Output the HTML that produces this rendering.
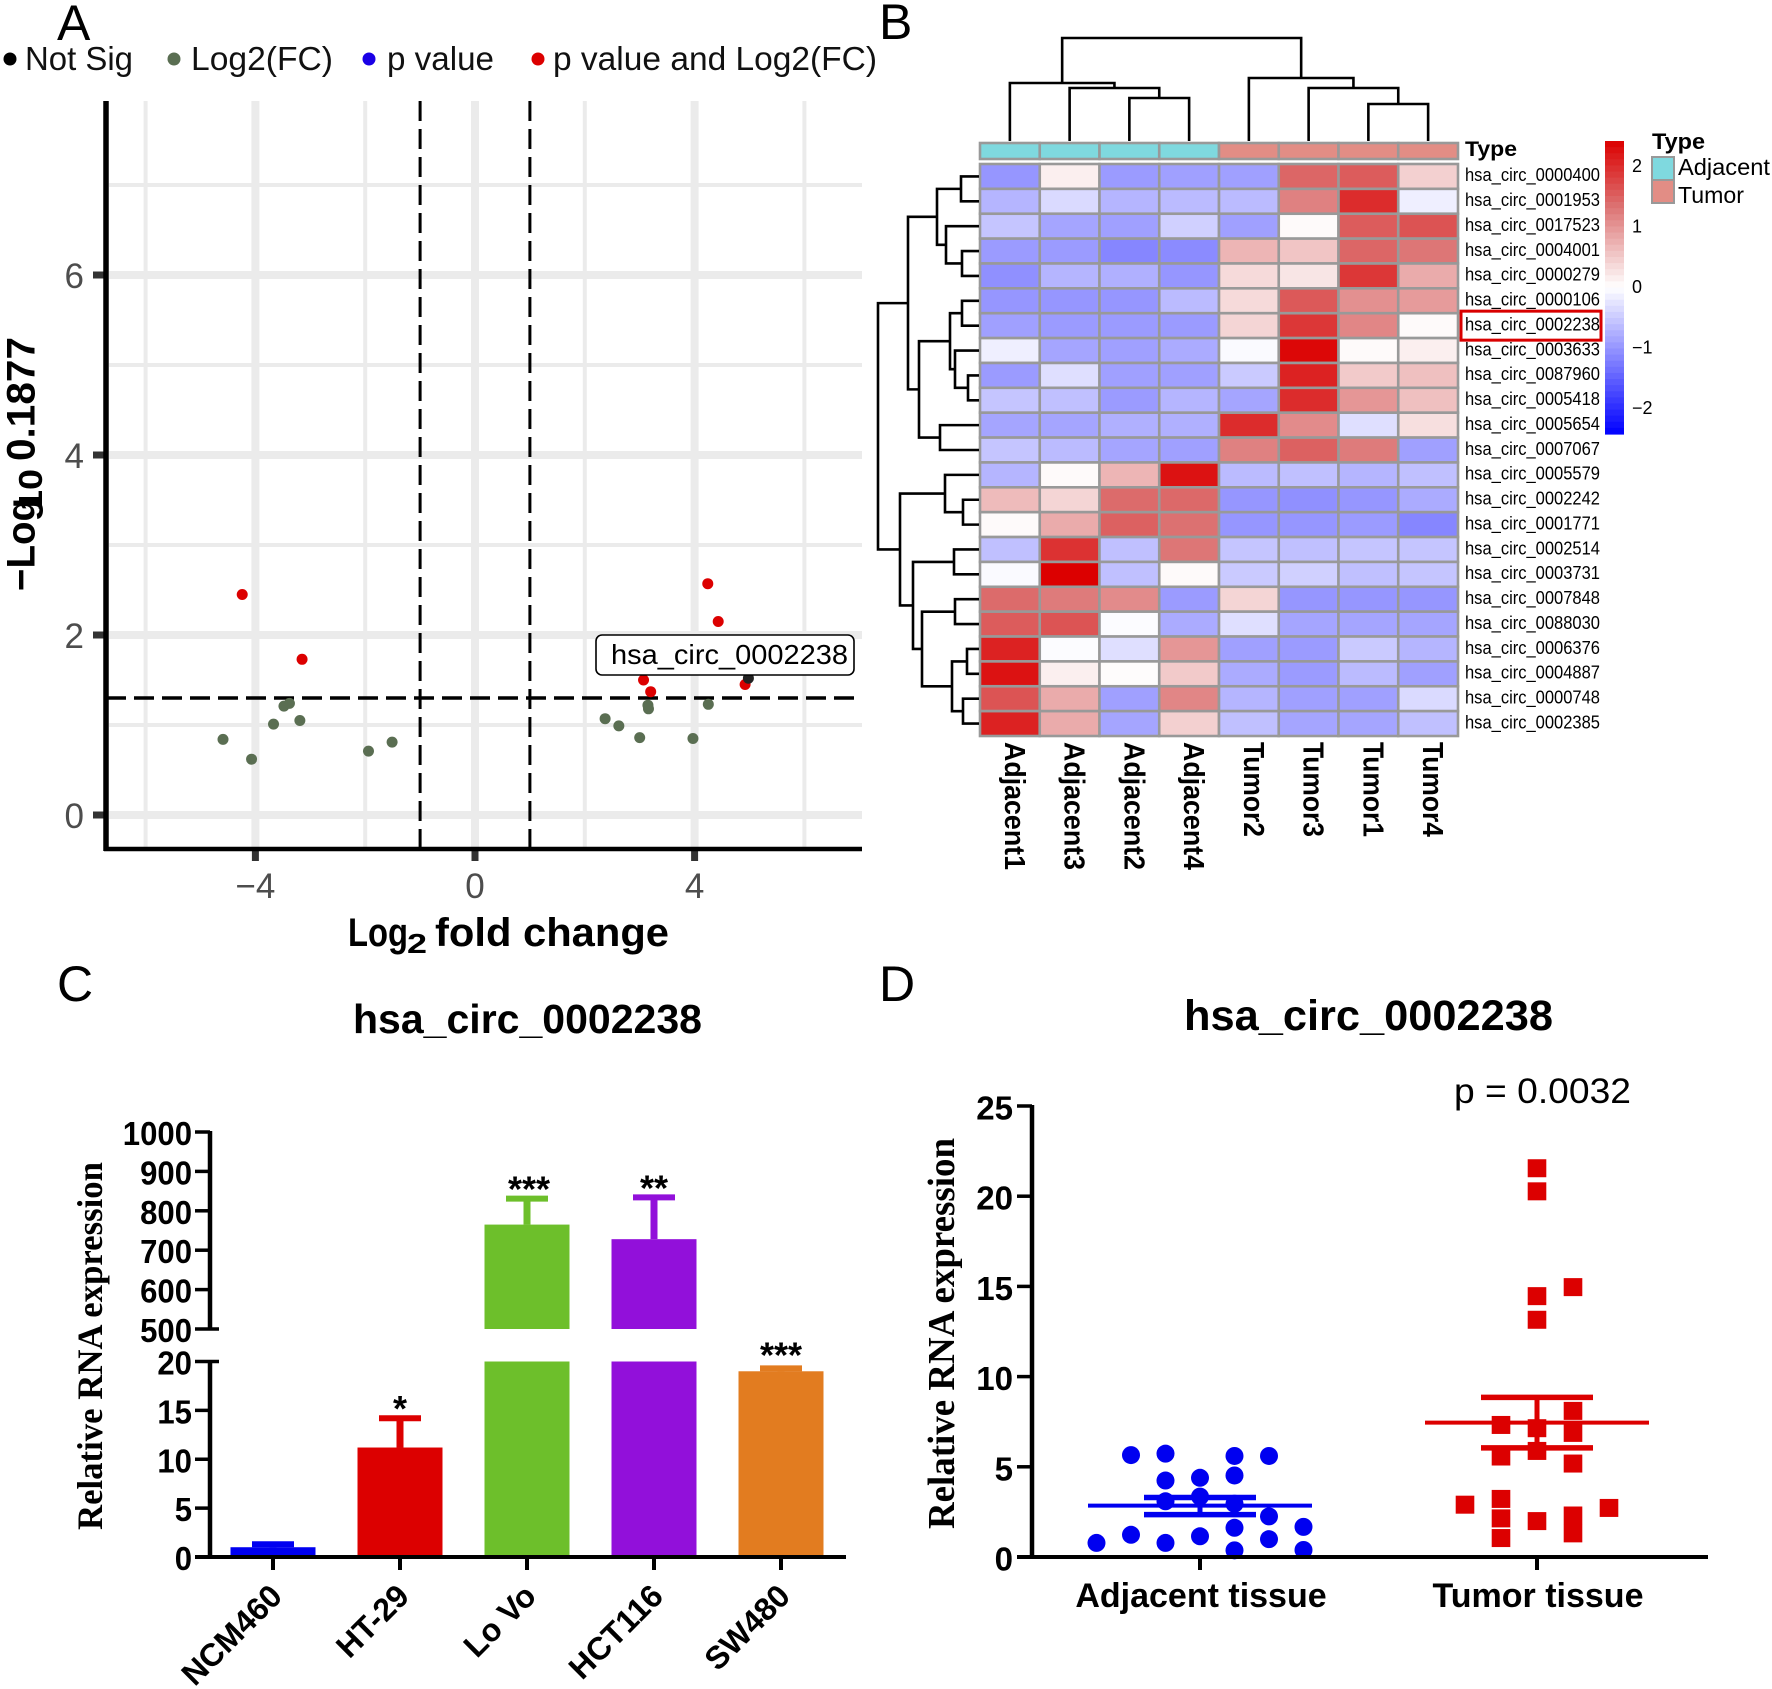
<!DOCTYPE html>
<html>
<head>
<meta charset="utf-8">
<title>circRNA figure</title>
<style>
html,body{margin:0;padding:0;background:#fff;}
svg{display:block;}
text{font-family:"Liberation Sans",sans-serif;}
.b{font-weight:bold;}
.serif{font-family:"Liberation Serif",serif;font-weight:bold;}
</style>
</head>
<body>
<svg id="fig" xmlns="http://www.w3.org/2000/svg" width="1772" height="1689" viewBox="0 0 1772 1689">
<rect x="0" y="0" width="1772" height="1689" fill="#fff"/>
<g id="panelA"></g>
<g id="panelB"></g>
<g id="panelC"></g>
<g id="panelD"></g>

<g font-size="50" fill="#000">
<text x="57" y="40">A</text>
<text x="879" y="39">B</text>
<text x="57" y="1001">C</text>
<text x="879" y="1001">D</text>
</g>

<g font-size="33" fill="#111">
<circle cx="10" cy="59" r="6.5" fill="#000"/>
<text x="25" y="70" textLength="108" lengthAdjust="spacingAndGlyphs">Not Sig</text>
<circle cx="174" cy="59" r="6.5" fill="#5a6e52"/>
<text x="191" y="70" textLength="142" lengthAdjust="spacingAndGlyphs">Log2(FC)</text>
<circle cx="369" cy="59" r="6.5" fill="#1a00e6"/>
<text x="387" y="70" textLength="107" lengthAdjust="spacingAndGlyphs">p value</text>
<circle cx="538" cy="59" r="6.5" fill="#dc0000"/>
<text x="553" y="70" textLength="324" lengthAdjust="spacingAndGlyphs">p value and Log2(FC)</text>
</g>

<g class="b" fill="#000">
<text class="b" x="348" y="946" font-size="40" textLength="60" lengthAdjust="spacingAndGlyphs">Log</text>
<text class="b" x="407" y="953" font-size="28" textLength="20" lengthAdjust="spacingAndGlyphs">2</text>
<text class="b" x="435" y="946" font-size="40" textLength="234" lengthAdjust="spacingAndGlyphs">fold change</text>
</g>
<g fill="#000">
<text class="b" transform="translate(34.5,591) rotate(-90)" font-size="40" textLength="93" lengthAdjust="spacingAndGlyphs">−Log</text>
<text class="b" transform="translate(42,511) rotate(-90)" font-size="33" textLength="42" lengthAdjust="spacingAndGlyphs">10</text>
<text class="b" transform="translate(34.5,461) rotate(-90)" font-size="40" textLength="124" lengthAdjust="spacingAndGlyphs">0.1877</text>
</g>

<g fill="#000">
<text class="b" x="1465" y="156" font-size="21" textLength="52" lengthAdjust="spacingAndGlyphs">Type</text>
<text class="b" x="1652" y="149" font-size="22" textLength="53" lengthAdjust="spacingAndGlyphs">Type</text>
<rect x="1652" y="157" width="22" height="23" fill="#7fd9df" stroke="#999" stroke-width="2"/>
<rect x="1652" y="180" width="22" height="23" fill="#e28d85" stroke="#999" stroke-width="2"/>
<text x="1678" y="175" font-size="23" textLength="92" lengthAdjust="spacingAndGlyphs">Adjacent</text>
<text x="1678" y="203" font-size="23" textLength="66" lengthAdjust="spacingAndGlyphs">Tumor</text>
</g>

<text class="b" x="353" y="1033" font-size="41" textLength="349" lengthAdjust="spacingAndGlyphs">hsa_circ_0002238</text>
<text class="serif" transform="translate(102,1530) rotate(-90)" font-size="36" textLength="368" lengthAdjust="spacingAndGlyphs">Relative RNA expression</text>

<text class="b" x="1184" y="1030" font-size="43" textLength="369" lengthAdjust="spacingAndGlyphs">hsa_circ_0002238</text>
<text x="1454" y="1103" font-size="35" textLength="177" lengthAdjust="spacingAndGlyphs">p = 0.0032</text>
<text class="serif" transform="translate(954,1529) rotate(-90)" font-size="38" textLength="391" lengthAdjust="spacingAndGlyphs">Relative RNA expression</text>
</svg>

<script>
/* ---------- Panel A data ---------- */
var volcanoMajorX = [-4, 0, 4];
var volcanoMinorX = [-6, -2, 2, 6];
var volcanoMajorY = [0, 2, 4, 6];
var volcanoMinorY = [1, 3, 5, 7];
var volcanoFcCut = [-1, 1];
var volcanoPCut = 1.3;
var greenX = [-4.59, -4.07, -3.67, -3.48, -3.38, -3.19, -1.94, -1.51, 2.37, 2.62, 3.0, 3.15, 3.16, 3.97, 4.25];
var greenY = [0.84, 0.62, 1.01, 1.21, 1.24, 1.05, 0.71, 0.81, 1.07, 0.99, 0.86, 1.22, 1.18, 0.85, 1.23];
var redX = [-4.24, -3.15, 4.24, 4.43, 3.07, 3.20, 4.92];
var redY = [2.45, 1.73, 2.57, 2.15, 1.50, 1.37, 1.45];
var blackX = [4.98];
var blackY = [1.52];

/* ---------- Panel B data ---------- */
var heatColumns = ["Adjacent1","Adjacent3","Adjacent2","Adjacent4","Tumor2","Tumor3","Tumor1","Tumor4"];
var heatColumnTypes = ["A","A","A","A","T","T","T","T"];
var heatRows = ["hsa_circ_0000400","hsa_circ_0001953","hsa_circ_0017523","hsa_circ_0004001","hsa_circ_0000279","hsa_circ_0000106","hsa_circ_0002238","hsa_circ_0003633","hsa_circ_0087960","hsa_circ_0005418","hsa_circ_0005654","hsa_circ_0007067","hsa_circ_0005579","hsa_circ_0002242","hsa_circ_0001771","hsa_circ_0002514","hsa_circ_0003731","hsa_circ_0007848","hsa_circ_0088030","hsa_circ_0006376","hsa_circ_0004887","hsa_circ_0000748","hsa_circ_0002385"];
var heatValues = [
[-1.0,0.15,-0.95,-0.9,-0.9,1.45,1.55,0.45],
[-0.7,-0.35,-0.7,-0.65,-0.65,1.2,2.0,-0.15],
[-0.55,-0.85,-0.9,-0.45,-0.9,0.05,1.55,1.63],
[-0.95,-0.95,-1.15,-1.1,0.7,0.55,1.45,1.3],
[-1.05,-0.7,-0.75,-1.0,0.35,0.25,1.9,0.8],
[-1.0,-1.0,-1.0,-0.65,0.35,1.58,1.05,0.95],
[-0.9,-0.95,-0.95,-0.95,0.4,1.9,1.15,0.05],
[-0.15,-0.85,-0.9,-0.8,-0.05,2.35,0.05,0.15],
[-0.95,-0.3,-0.9,-0.9,-0.5,2.1,0.5,0.6],
[-0.55,-0.6,-0.95,-0.7,-0.85,2.0,1.0,0.6],
[-0.85,-0.85,-0.75,-0.75,2.0,1.1,-0.3,0.3],
[-0.55,-0.65,-0.85,-0.9,1.2,1.5,1.25,-0.9],
[-0.7,0.05,0.7,2.25,-0.65,-0.6,-0.7,-0.6],
[0.65,0.4,1.4,1.42,-1.0,-1.05,-1.0,-0.8],
[0.05,0.8,1.5,1.35,-1.0,-1.0,-0.95,-1.15],
[-0.6,1.95,-0.6,1.3,-0.55,-0.6,-0.55,-0.55],
[-0.05,2.42,-0.6,0.05,-0.5,-0.45,-0.6,-0.55],
[1.4,1.25,1.1,-0.95,0.4,-1.0,-1.0,-1.0],
[1.55,1.62,-0.03,-0.8,-0.3,-0.85,-0.85,-0.85],
[2.1,-0.03,-0.3,1.0,-0.9,-0.95,-0.5,-0.7],
[2.25,0.15,0.03,0.5,-0.8,-0.95,-0.65,-0.9],
[1.62,0.8,-0.9,1.15,-0.7,-0.9,-0.9,-0.35],
[2.1,0.8,-0.85,0.45,-0.6,-0.85,-0.85,-0.6]
];
var colorbarTicks = [2, 1, 0, -1, -2];
var highlightedRow = "hsa_circ_0002238";
/* dendrograms: nested [left, right, merge distance]; leaves are indices */
var colTree = [[[0,[1,[2,3,43],53],58],[4,[5,[6,7,37],53],63],103]];
var rowTree = [[[[[0,1,18],[2,[3,4,17],33],42],[[[5,6,17],[7,[8,9,11],24],29],[10,11,39],60],71],[[12,[13,14,16],34],[[15,16,25],[[17,18,24],[[19,20,12],[21,22,16],27],57],66],79],101]];

/* ---------- Panel C data ---------- */
var barCategories = ["NCM460","HT-29","Lo Vo","HCT116","SW480"];
var barMeans = [1.0, 11.2, 765, 728, 19.0];
var barErrorTops = [1.3, 14.2, 831, 834, 19.3];
var barColors = ["#0000f0","#dc0000","#6dbf2b","#9210da","#e27c20"];
var barStars = ["","*","***","**","***"];
var barLowerTicks = [0, 5, 10, 15, 20];
var barUpperTicks = [500, 600, 700, 800, 900, 1000];

/* ---------- Panel D data ---------- */
var scatterTicks = [0, 5, 10, 15, 20, 25];
var scatterCategories = ["Adjacent tissue","Tumor tissue"];
var adjacentSlots = [-2,-1,1,2,-1,0,1,-1,0,1,2,3,1,2,0,-1,-2,-3,3,1];
var adjacentValues = [5.65,5.73,5.6,5.6,4.24,4.39,4.52,3.09,3.35,2.95,2.25,1.67,1.62,0.99,1.15,0.78,1.23,0.78,0.39,0.37];
var tumorSlots = [0,0,1,0,0,1,-1,0,1,0,-1,1,-2,-1,-1,0,1,1,2,-1];
var tumorValues = [21.55,20.27,14.96,14.46,13.15,8.1,7.32,7.14,6.88,5.88,5.57,5.18,2.9,3.22,2.14,1.99,2.3,1.31,2.72,1.05];
var adjacentSummary = [2.35, 2.85, 3.3];
var tumorSummary = [6.05, 7.45, 8.85];

var NS = "http://www.w3.org/2000/svg";
function mk(tag, attrs, parent, txt) {
  var e = document.createElementNS(NS, tag);
  for (var k in attrs) { e.setAttribute(k, attrs[k]); }
  if (txt !== undefined) { e.textContent = txt; }
  parent.appendChild(e);
  return e;
}
var el, i, j;

/* ---------- Panel A ---------- */
var pA = document.getElementById("panelA");
function ax(v) { return 475 + v * 54.9; }
function ay(v) { return 815 - v * 90; }
volcanoMinorX.forEach(function (v) {
  var el = mk("line", {x1: ax(v), x2: ax(v), y1: 101, y2: 849, stroke: "#ebebeb", "stroke-width": 4}, pA);
  
  
});
volcanoMinorY.forEach(function (v) {
  var el = mk("line", {x1: 109, x2: 862, y1: ay(v), y2: ay(v), stroke: "#ebebeb", "stroke-width": 4}, pA);
  
  
});
volcanoMajorX.forEach(function (v) {
  var el = mk("line", {x1: ax(v), x2: ax(v), y1: 101, y2: 849, stroke: "#ebebeb", "stroke-width": 8}, pA);
  
  
  var t = mk("line", {x1: ax(v), x2: ax(v), y1: 849, y2: 861, stroke: "#333", "stroke-width": 7}, pA);
  
  
  var l = mk("text", {x: ax(v), y: 898, "font-size": 35, fill: "#4d4d4d", "text-anchor": "middle"}, pA, String(v).replace("-", "−"));
  
  
});
volcanoMajorY.forEach(function (v) {
  var el = mk("line", {x1: 109, x2: 862, y1: ay(v), y2: ay(v), stroke: "#ebebeb", "stroke-width": 8}, pA);
  
  
  var t = mk("line", {x1: 93, x2: 106, y1: ay(v), y2: ay(v), stroke: "#333", "stroke-width": 7}, pA);
  
  
  var l = mk("text", {x: 84, y: ay(v) + 13, "font-size": 35, fill: "#4d4d4d", "text-anchor": "end"}, pA, String(v));
  
  
});
el = mk("line", {x1: 106, x2: 106, y1: 101, y2: 851, stroke: "#000", "stroke-width": 5.5}, pA);


el = mk("line", {x1: 104, x2: 862, y1: 849, y2: 849, stroke: "#000", "stroke-width": 4.5}, pA);


volcanoFcCut.forEach(function (v) {
  var el = mk("line", {x1: ax(v), x2: ax(v), y1: 101, y2: 849, stroke: "#000", "stroke-width": 3, "stroke-dasharray": "20 8"}, pA);
  
  
});
el = mk("line", {x1: 106, x2: 860, y1: ay(volcanoPCut), y2: ay(volcanoPCut), stroke: "#000", "stroke-width": 3.5, "stroke-dasharray": "20 8"}, pA);


greenX.forEach(function (x, k) {
  var el = mk("circle", {cx: ax(x), cy: ay(greenY[k]), r: 5.5, fill: "#5a6e52"}, pA);
  
  
});
redX.forEach(function (x, k) {
  var el = mk("circle", {cx: ax(x), cy: ay(redY[k]), r: 5.5, fill: "#dc0000"}, pA);
  
  
});
blackX.forEach(function (x, k) {
  var el = mk("circle", {cx: ax(x), cy: ay(blackY[k]), r: 5.5, fill: "#222"}, pA);
  
  
});
el = mk("rect", {x: 596, y: 635, width: 258, height: 40, rx: 6, fill: "#fff", stroke: "#000", "stroke-width": 1.6}, pA);


el = mk("text", {x: 611, y: 664, "font-size": 28, fill: "#000", textLength: 237, lengthAdjust: "spacingAndGlyphs"}, pA, "hsa_circ_0002238");



/* ---------- Panel B ---------- */
var pB = document.getElementById("panelB");
var hmL = 980, hmT = 164, cw = 59.75, rh = 24.87;
function colCenter(c) { return hmL + cw * (c + 0.5); }
function rowCenter(r) { return hmT + rh * (r + 0.5); }
function heatColor(v) {
  var t = Math.min(1, Math.abs(v) / 2.42);
  var f = Math.round(255 * (1 - t));
  if (v < 0) { return "rgb(" + f + "," + f + ",255)"; }
  return "rgb(" + Math.round(255 - 35 * Math.min(1, t / 0.55)) + "," + f + "," + f + ")";
}
heatColumns.forEach(function (name, c) {
  var a = mk("rect", {x: hmL + c * cw, y: 143, width: cw, height: 16, fill: heatColumnTypes[c] === "A" ? "#7fd9df" : "#e28d85", stroke: "#999", "stroke-width": 2.6}, pB);
  
  
  var lx = colCenter(c) - 5;
  var l = mk("text", {transform: "translate(" + lx + ",742) rotate(90)", "font-size": 28.5, "font-weight": "bold", fill: "#000", textLength: name.charAt(0) === "A" ? 128 : 95, lengthAdjust: "spacingAndGlyphs"}, pB, name);
  
  
});
heatRows.forEach(function (name, r) {
  heatValues[r].forEach(function (v, c) {
    var el = mk("rect", {x: hmL + c * cw, y: hmT + r * rh, width: cw, height: rh, fill: heatColor(v), stroke: "#999", "stroke-width": 2.6}, pB);
    
    
  });
  var l = mk("text", {x: 1465, y: rowCenter(r) + 4.8, "font-size": 18, fill: "#000", textLength: 135, lengthAdjust: "spacingAndGlyphs"}, pB, name);
  
  
  if (name === highlightedRow) {
    var b = mk("rect", {x: 1461, y: rowCenter(r) - 14.5, width: 140, height: 29, fill: "none", stroke: "#d90000", "stroke-width": 3}, pB);
    
    
  }
});
/* colour bar */
var nLevels = 48;
for (i = 0; i < nLevels; i++) {
  var lev = 2.42 - (i + 0.5) * (4.84 / nLevels);
  el = mk("rect", {x: 1605, y: 141 + i * 293 / nLevels, width: 19, height: 293 / nLevels + 0.6, fill: heatColor(lev)}, pB);
  
  
}
colorbarTicks.forEach(function (v) {
  var el = mk("text", {x: 1632, y: 287 - v * 60.6 + 6, "font-size": 18, fill: "#000"}, pB, String(v).replace("-", "−"));
  
  
});
function drawTree(node, pos, toPoint) {
  if (typeof node === "number") { return {p: pos(node), d: 0}; }
  var a = drawTree(node[0], pos, toPoint);
  var b = drawTree(node[1], pos, toPoint);
  var h = node[2];
  var pts = [toPoint(a.p, a.d), toPoint(a.p, h), toPoint(b.p, h), toPoint(b.p, b.d)];
  var el = mk("polyline", {points: pts.join(" "), fill: "none", stroke: "#000", "stroke-width": 2.6}, pB);
  
  
  return {p: (a.p + b.p) / 2, d: h};
}
drawTree(colTree[0], colCenter, function (p, d) { return p + "," + (141 - d); });
drawTree(rowTree[0], rowCenter, function (p, d) { return (979 - d) + "," + p; });

/* ---------- Panel C ---------- */
var pC = document.getElementById("panelC");
function cx(k) { return 273 + k * 127; }
function cy(v) {
  return v <= 20 ? 1557 - v * 195.5 / 20 : 1329 - (v - 500) * 197 / 500;
}
barCategories.forEach(function (name, k) {
  var m = barMeans[k], top = barErrorTops[k], c = barColors[k], xc = cx(k), el;
  if (m > 20) {
    el = mk("rect", {x: xc - 42.5, y: cy(20), width: 85, height: 1557 - cy(20), fill: c}, pC);
    
    
    el = mk("rect", {x: xc - 42.5, y: cy(m), width: 85, height: 1329 - cy(m), fill: c}, pC);
    
    
  } else {
    el = mk("rect", {x: xc - 42.5, y: cy(m), width: 85, height: 1557 - cy(m), fill: c}, pC);
    
    
  }
  el = mk("line", {x1: xc, x2: xc, y1: cy(m), y2: cy(top), stroke: c, "stroke-width": 7}, pC);
  
  
  el = mk("line", {x1: xc - 21, x2: xc + 21, y1: cy(top), y2: cy(top), stroke: c, "stroke-width": 6}, pC);
  
  
  if (barStars[k]) {
    el = mk("text", {x: xc + (k === 2 ? 2 : 0), y: cy(top) + (k === 4 ? -1 : 3), "font-size": 36, "font-weight": "bold", "text-anchor": "middle", fill: "#000"}, pC, barStars[k]);
    
    
  }
  el = mk("line", {x1: xc, x2: xc, y1: 1557, y2: 1570, stroke: "#000", "stroke-width": 4}, pC);
  
  
  el = mk("text", {transform: "translate(" + (xc + 11) + ",1598) rotate(-45)", "font-size": 32, "font-weight": "bold", "text-anchor": "end", fill: "#000"}, pC, name);
  
  
});
el = mk("line", {x1: 210, x2: 210, y1: 1131, y2: 1329, stroke: "#000", "stroke-width": 4.5}, pC);


el = mk("line", {x1: 210, x2: 210, y1: 1361, y2: 1559, stroke: "#000", "stroke-width": 4.5}, pC);


el = mk("line", {x1: 195, x2: 846, y1: 1557, y2: 1557, stroke: "#000", "stroke-width": 4}, pC);


barLowerTicks.concat(barUpperTicks).forEach(function (v) {
  var isEdge = (v === 20 || v === 500);
  var el = mk("line", {x1: 195, x2: isEdge ? 219 : 210, y1: cy(v), y2: cy(v), stroke: "#000", "stroke-width": 3.5}, pC);
  
  
  var s = String(v);
  var l = mk("text", {x: 192, y: cy(v) + 13, "font-size": 33, "font-weight": "bold", "text-anchor": "end", fill: "#000", textLength: s.length * 17.3, lengthAdjust: "spacingAndGlyphs"}, pC, s);
  
  
});

/* ---------- Panel D ---------- */
var pD = document.getElementById("panelD");
function dy(v) { return 1557 - v * 18.04; }
var dCenters = [1200, 1537];
adjacentValues.forEach(function (v, k) {
  var el = mk("ellipse", {cx: dCenters[0] + adjacentSlots[k] * 34.5, cy: dy(v), rx: 9, ry: 9, fill: "#0000f0"}, pD);
  
  
});
tumorValues.forEach(function (v, k) {
  var el = mk("rect", {x: dCenters[1] + tumorSlots[k] * 36 - 9.3, y: dy(v) - 9, width: 18.6, height: 18, fill: "#dc0000"}, pD);
  
  
});
[[adjacentSummary, "#0000f0", 0], [tumorSummary, "#dc0000", 1]].forEach(function (g) {
  var s = g[0], c = g[1], xc = dCenters[g[2]], el;
  el = mk("line", {x1: xc - 112, x2: xc + 112, y1: dy(s[1]), y2: dy(s[1]), stroke: c, "stroke-width": 4}, pD);
  
  
  el = mk("line", {x1: xc, x2: xc, y1: dy(s[0]), y2: dy(s[2]), stroke: c, "stroke-width": 5}, pD);
  
  
  el = mk("line", {x1: xc - 56, x2: xc + 56, y1: dy(s[0]), y2: dy(s[0]), stroke: c, "stroke-width": 5.5}, pD);
  
  
  el = mk("line", {x1: xc - 56, x2: xc + 56, y1: dy(s[2]), y2: dy(s[2]), stroke: c, "stroke-width": 5.5}, pD);
  
  
});
el = mk("line", {x1: 1032, x2: 1032, y1: 1105, y2: 1559, stroke: "#000", "stroke-width": 4.5}, pD);


el = mk("line", {x1: 1017, x2: 1708, y1: 1557, y2: 1557, stroke: "#000", "stroke-width": 4}, pD);


scatterTicks.forEach(function (v) {
  var t = mk("line", {x1: 1017, x2: 1032, y1: dy(v), y2: dy(v), stroke: "#000", "stroke-width": 3.5}, pD);
  
  
  var s = String(v);
  var l = mk("text", {x: 1013, y: dy(v) + 13.5, "font-size": 33, "font-weight": "bold", "text-anchor": "end", fill: "#000", textLength: s.length * 18.4, lengthAdjust: "spacingAndGlyphs"}, pD, s);
  
  
});
scatterCategories.forEach(function (name, k) {
  var t = mk("line", {x1: dCenters[k], x2: dCenters[k], y1: 1557, y2: 1570, stroke: "#000", "stroke-width": 4}, pD);
  
  
  var l = mk("text", {x: dCenters[k] + 1, y: 1607, "font-size": 34, "font-weight": "bold", "text-anchor": "middle", fill: "#000"}, pD, name);
  
  
});
</script>
</body>
</html>
